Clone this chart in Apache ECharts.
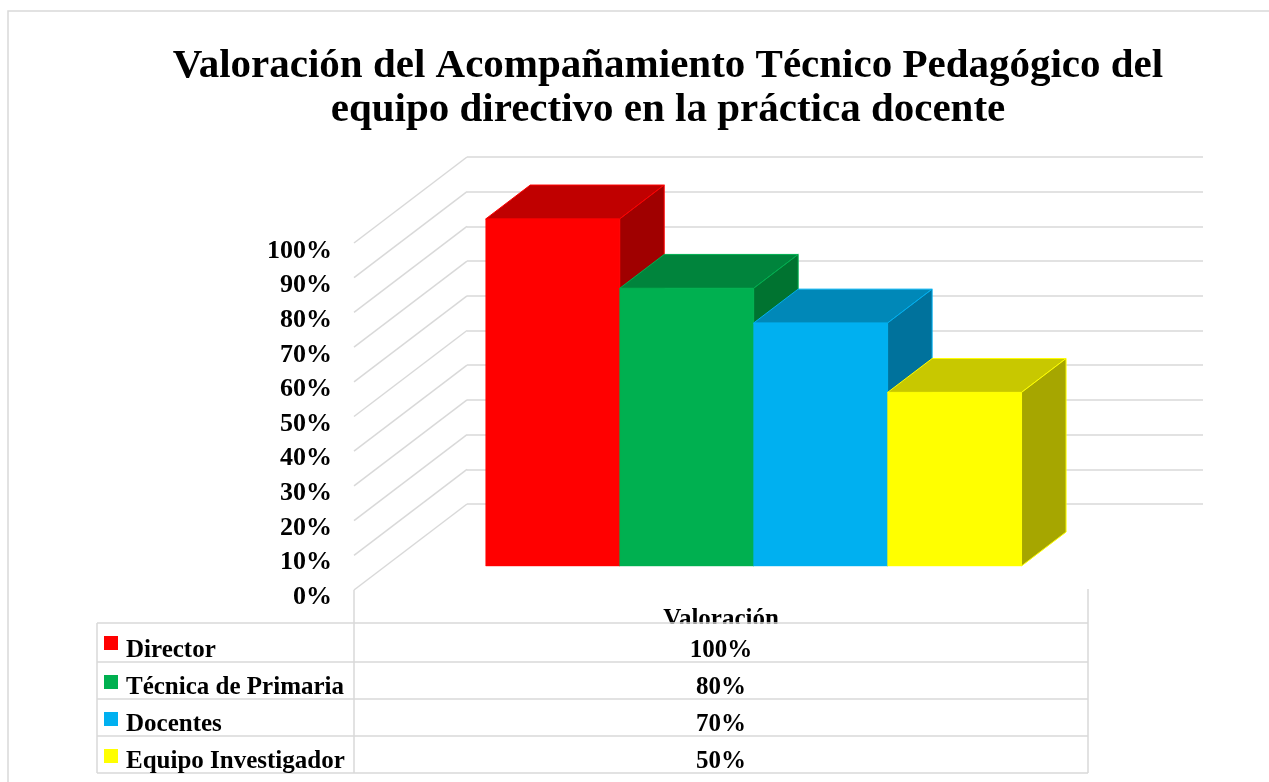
<!DOCTYPE html>
<html>
<head>
<meta charset="utf-8">
<script src="https://cdn.jsdelivr.net/npm/echarts@6/dist/echarts.min.js"></script>
<style>
html,body{margin:0;padding:0;background:#fff;}
#chart{width:1269px;height:782px;}
</style>
</head>
<body>
<div id="chart"></div>
<script>
// datos del gráfico
var categories = ['Director', 'Técnica de Primaria', 'Docentes', 'Equipo Investigador'];
var values = [100, 80, 70, 50];
var axisTicks = [0, 10, 20, 30, 40, 50, 60, 70, 80, 90, 100];
var columnName = 'Valoración';
var titleText = 'Valoración del Acompañamiento Técnico Pedagógico del\nequipo directivo en la práctica docente';

// colores: frente, tapa, lado
var frontColors = ['#FF0000', '#00B050', '#00B0F0', '#FFFF00'];
var topColors = ['#C00000', '#00843C', '#0088B8', '#C8C800'];
var sideColors = ['#A00000', '#007330', '#00729C', '#A6A600'];

var FONT = '"Liberation Serif", serif';
var GRID_C = '#d9d9d9';
// desplazamiento de profundidad (pared del fondo -> plano frontal)
var DX = -113, DY = 86;
var F_FRONT = 0.72, F_BACK = 0.326;

function proj(x, y, f){
	return [x + f * DX, y + f * DY];
}

function renderBar(params, api){
	var i = api.value(2);
	var v = api.value(1);
	var base = api.coord([0, 0]);
	var top = api.coord([0, v]);
	var bandW = api.size([1, 0])[0];
	var w = bandW * 0.182;
	var x0 = base[0] + (i - 2) * w;
	var x1 = x0 + w;
	var yb = base[1], yt = top[1];
	var front = [proj(x0, yt, F_FRONT), proj(x1, yt, F_FRONT), proj(x1, yb, F_FRONT), proj(x0, yb, F_FRONT)];
	var tapa = [proj(x0, yt, F_FRONT), proj(x1, yt, F_FRONT), proj(x1, yt, F_BACK), proj(x0, yt, F_BACK)];
	var lado = [proj(x1, yt, F_FRONT), proj(x1, yt, F_BACK), proj(x1, yb, F_BACK), proj(x1, yb, F_FRONT)];
	return {
		type: 'group',
		children: [
			{type: 'polygon', z2: i * 3, shape: {points: tapa}, style: {fill: topColors[i], stroke: frontColors[i], lineWidth: 1}},
			{type: 'polygon', z2: i * 3 + 1, shape: {points: lado}, style: {fill: sideColors[i], stroke: frontColors[i], lineWidth: 1}},
			{type: 'polygon', z2: i * 3 + 2, shape: {points: front}, style: {fill: frontColors[i], stroke: frontColors[i], lineWidth: 0.5}}
		]
	};
}

function renderDiag(params, api){
	var p = api.coord([0, api.value(1)]);
	var x = params.coordSys.x;
	return {
		type: 'line',
		shape: {x1: x, y1: p[1], x2: x + DX, y2: p[1] + DY},
		style: {stroke: GRID_C, lineWidth: 1.5}
	};
}

var barData = [];
for (var i = 0; i < values.length; i++) {
	barData.push([0, values[i], i]);
}
var diagData = axisTicks.map(function(t){ return [0, t]; });

// tabla de datos debajo del gráfico
var tL = 97, tM = 354, tR = 1088;
var rowsY = [623, 662, 699, 736, 773];
var tableEls = [];
tableEls.push({type: 'text', z: 10, style: {text: columnName, x: (tM + tR) / 2, y: 620, align: 'center', verticalAlign: 'middle', font: 'bold 25px ' + FONT, fill: '#000'}});
tableEls.push({type: 'rect', z: 11, shape: {x: tM + 1, y: 624, width: tR - tM - 2, height: 12}, style: {fill: '#fff'}});
for (var r = 0; r < rowsY.length; r++) {
	tableEls.push({type: 'line', z: 12, shape: {x1: tL, y1: rowsY[r], x2: tR, y2: rowsY[r]}, style: {stroke: GRID_C, lineWidth: 1.5}});
}
tableEls.push({type: 'line', z: 12, shape: {x1: tL, y1: rowsY[0], x2: tL, y2: rowsY[4]}, style: {stroke: GRID_C, lineWidth: 1.5}});
tableEls.push({type: 'line', z: 12, shape: {x1: tM, y1: 590, x2: tM, y2: rowsY[4]}, style: {stroke: GRID_C, lineWidth: 1.5}});
tableEls.push({type: 'line', z: 12, shape: {x1: tR, y1: 589, x2: tR, y2: rowsY[4]}, style: {stroke: GRID_C, lineWidth: 1.5}});
for (var k = 0; k < categories.length; k++) {
	var rb = rowsY[k + 1];
	tableEls.push({type: 'rect', z: 12, shape: {x: 104, y: rowsY[k] + 13, width: 14, height: 14}, style: {fill: frontColors[k]}});
	tableEls.push({type: 'text', z: 12, style: {text: categories[k], x: 126, y: rb + 1, align: 'left', verticalAlign: 'bottom', font: 'bold 25px ' + FONT, fill: '#000'}});
	tableEls.push({type: 'text', z: 12, style: {text: values[k] + '%', x: (tM + tR) / 2, y: rb + 1, align: 'center', verticalAlign: 'bottom', font: 'bold 25px ' + FONT, fill: '#000'}});
}
// marco exterior
tableEls.push({type: 'rect', z: 0, shape: {x: 8, y: 11, width: 1300, height: 800}, style: {fill: 'none', stroke: GRID_C, lineWidth: 1.5}});

var option = {
	backgroundColor: '#fff',
	animation: false,
	title: {
		text: titleText,
		left: 663,
		top: 39,
		textAlign: 'center',
		textStyle: {fontFamily: FONT, fontWeight: 'bold', fontSize: 41, lineHeight: 44, color: '#000'}
	},
	grid: [
		{left: 467, top: 157, width: 736, height: 347},
		{left: 354, top: 251, width: 734, height: 346}
	],
	xAxis: [
		{type: 'category', gridIndex: 0, data: [columnName], show: false},
		{type: 'category', gridIndex: 1, data: [columnName], show: false}
	],
	yAxis: [
		{type: 'value', gridIndex: 0, min: 0, max: 100, interval: 10,
			axisLabel: {show: false}, axisLine: {show: false}, axisTick: {show: false},
			splitLine: {show: true, lineStyle: {color: GRID_C, width: 1.5}}},
		{type: 'value', gridIndex: 1, min: 0, max: 100, interval: 10,
			axisLine: {show: false}, axisTick: {show: false}, splitLine: {show: false},
			axisLabel: {formatter: '{value}%', margin: 22, fontFamily: FONT, fontWeight: 'bold', fontSize: 26, color: '#000'}}
	],
	series: [
		{type: 'custom', xAxisIndex: 0, yAxisIndex: 0, renderItem: renderDiag, data: diagData, silent: true, z: 1},
		{type: 'custom', xAxisIndex: 0, yAxisIndex: 0, renderItem: renderBar, data: barData, z: 3,
			encode: {x: 0, y: 1}},
		{type: 'line', xAxisIndex: 1, yAxisIndex: 1, data: [], silent: true}
	],
	graphic: tableEls
};

var chart = echarts.init(document.getElementById('chart'));
chart.setOption(option);
</script>
</body>
</html>
